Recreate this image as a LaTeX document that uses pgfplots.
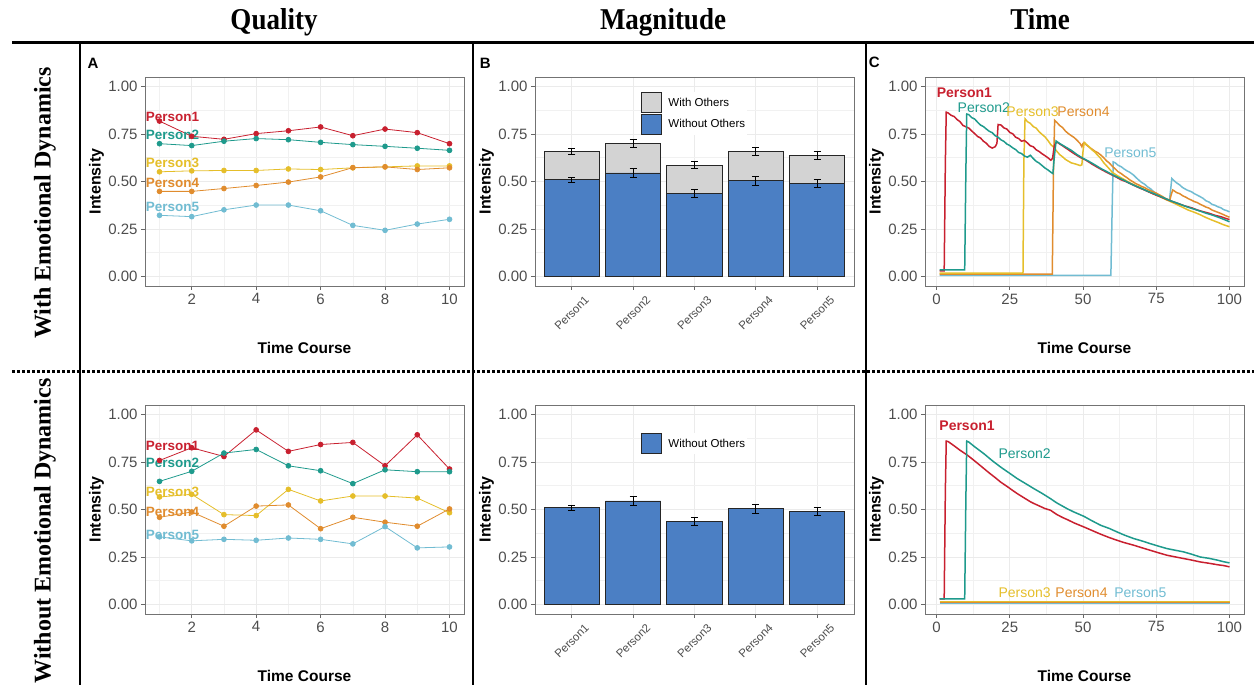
\documentclass[border=0pt]{standalone}
\usepackage{fontspec}
\setmainfont{Liberation Sans}
\newfontfamily\headfont{Liberation Serif}
\usepackage{graphicx}
\usepackage{pgfplots}
\pgfplotsset{compat=1.18}
\definecolor{pA}{HTML}{C8202F}
\definecolor{pB}{HTML}{1E9A8C}
\definecolor{pC}{HTML}{E5BE2A}
\definecolor{pD}{HTML}{E08C2E}
\definecolor{pE}{HTML}{71BCD2}
\definecolor{barblue}{HTML}{4B7FC4}
\definecolor{bargray}{HTML}{D3D3D3}
\definecolor{tickgray}{HTML}{4D4D4D}
\definecolor{gridc}{HTML}{EBEBEB}
\tikzset{plab/.style={anchor=west, font=\fontsize{14}{16}\selectfont, inner sep=0pt},
         qlab/.style={anchor=west, font=\bfseries\fontsize{13.5}{16}\selectfont, inner sep=0pt}}
\pgfplotsset{
  panel/.style={
    scale only axis, width=319pt, height=209pt, anchor=south west,
    axis line style={draw=black!55, line width=0.8pt},
    tick align=outside, xtick pos=left, ytick pos=left,
    major tick length=4pt, minor tick length=0pt,
    tick style={black!60, line width=0.8pt},
    grid=both,
    major grid style={draw=gridc, line width=0.7pt},
    minor grid style={draw=gridc!70, line width=0.5pt},
    tick label style={font=\fontsize{15}{17}\selectfont, text=tickgray},
    /pgf/number format/assume math mode=true,
    ymin=-0.05, ymax=1.05, ytick={0,0.25,0.5,0.75,1},
    minor ytick={0.125,0.375,0.625,0.875},
    yticklabel style={/pgf/number format/fixed, /pgf/number format/fixed zerofill, /pgf/number format/precision=2},
    ylabel={Intensity},
    ylabel style={font=\bfseries\fontsize{16}{18}\selectfont, at={(axis description cs:-0.152,0.5)}, anchor=center},
    xlabel style={font=\bfseries\fontsize{15.5}{18}\selectfont, at={(axis description cs:0.5,-0.297)}, anchor=center},
  },
  qual/.style={panel, xmin=0.55, xmax=10.45, xtick={2,4,6,8,10}, minor xtick={1,3,5,7,9}, xlabel={Time Course}},
  tim/.style={panel, xmin=-3.95, xmax=104.95, xtick={0,25,50,75,100}, minor xtick={12.5,37.5,62.5,87.5}, xlabel={Time Course}},
  mag/.style={panel, xmin=0.4, xmax=5.6, xtick={1,2,3,4,5},
    xticklabels={Person1,Person2,Person3,Person4,Person5},
    xticklabel style={yshift=-23pt, rotate=45, anchor=center, font=\fontsize{11.5}{13}\selectfont},
    legend cell align=left,
    legend image code/.code={\draw[##1] (0pt,-10pt) rectangle (20pt,10pt);},
  },
  qline/.style={line width=0.8pt, mark=*, mark size=2.4pt},
  tline/.style={line width=1.5pt},
  bar/.style={ybar, bar width=0.9, bar shift=0pt, draw=black!85, line width=0.8pt},
  ebar/.style={forget plot, draw=none, mark=none, error bars/.cd, y dir=both, y explicit,
    error mark=|,
    error bar style={draw=black, line width=0.8pt},
    error mark options={draw=black, mark size=3.5pt, line width=0.8pt}},
  leg/.style={legend style={at={(0.332,#1)}, anchor=north west, draw=none, fill=white,
    font=\fontsize{11.5}{13}\selectfont, inner sep=0pt, row sep=1pt, nodes={inner sep=1.5pt},
    /tikz/every odd column/.append style={column sep=5pt}}},
}
\begin{document}
\begin{tikzpicture}
\useasboundingbox (0pt,0pt) rectangle (1254pt,685pt);
% headers
\node[anchor=base, font=\headfont\bfseries\fontsize{27}{30}\selectfont] at (274pt,655pt) {\scalebox{1}[1.12]{Quality}};
\node[anchor=base, font=\headfont\bfseries\fontsize{27}{30}\selectfont] at (663pt,655pt) {\scalebox{1}[1.12]{Magnitude}};
\node[anchor=base, font=\headfont\bfseries\fontsize{27}{30}\selectfont] at (1040pt,655pt) {\scalebox{1}[1.12]{Time}};
\node[rotate=90, font=\headfont\bfseries\fontsize{24}{28}\selectfont] at (45pt,482pt) {With Emotional Dynamics};
\node[rotate=90, font=\headfont\bfseries\fontsize{24}{28}\selectfont] at (45pt,154pt) {Without Emotional Dynamics};
% frame lines
\draw[line width=3pt] (12pt,642pt) -- (1254pt,642pt);
\draw[line width=2.5pt] (80pt,642pt) -- (80pt,0pt);
\draw[line width=1.5pt] (473pt,642pt) -- (473pt,0pt);
\draw[line width=1.5pt] (866pt,642pt) -- (866pt,0pt);
\draw[line width=3pt, dash pattern=on 2.5pt off 2.5pt] (12pt,313.3pt) -- (1254pt,313.3pt);
% panel letters
\node[anchor=south west, inner sep=0pt, font=\bfseries\fontsize{15}{17}\selectfont] at (87.3pt,616.7pt) {A};
\node[anchor=south west, inner sep=0pt, font=\bfseries\fontsize{15}{17}\selectfont] at (479.7pt,616.7pt) {B};
\node[anchor=south west, inner sep=0pt, font=\bfseries\fontsize{15}{17}\selectfont] at (868.7pt,616.7pt) {C};

% ---------- A top ----------
\begin{axis}[qual, at={(145pt,399pt)}]
\addplot[pA, qline] coordinates {(1,0.818)(2,0.738)(3,0.722)(4,0.752)(5,0.767)(6,0.787)(7,0.741)(8,0.776)(9,0.757)(10,0.699)};
\addplot[pB, qline] coordinates {(1,0.699)(2,0.689)(3,0.712)(4,0.726)(5,0.720)(6,0.706)(7,0.694)(8,0.685)(9,0.675)(10,0.664)};
\addplot[pC, qline] coordinates {(1,0.551)(2,0.556)(3,0.558)(4,0.558)(5,0.566)(6,0.563)(7,0.572)(8,0.577)(9,0.582)(10,0.582)};
\addplot[pD, qline] coordinates {(1,0.448)(2,0.448)(3,0.463)(4,0.479)(5,0.497)(6,0.524)(7,0.573)(8,0.577)(9,0.563)(10,0.572)};
\addplot[pE, qline] coordinates {(1,0.322)(2,0.315)(3,0.351)(4,0.376)(5,0.376)(6,0.346)(7,0.269)(8,0.243)(9,0.276)(10,0.301)};
\node[qlab, text=pA] at (axis cs:0.57,0.839) {Person1};
\node[qlab, text=pB] at (axis cs:0.57,0.743) {Person2};
\node[qlab, text=pC] at (axis cs:0.57,0.597) {Person3};
\node[qlab, text=pD] at (axis cs:0.57,0.492) {Person4};
\node[qlab, text=pE] at (axis cs:0.57,0.366) {Person5};
\end{axis}

% ---------- A bottom ----------
\begin{axis}[qual, at={(145pt,71pt)}]
\addplot[pA, qline] coordinates {(1,0.758)(2,0.825)(3,0.779)(4,0.919)(5,0.806)(6,0.842)(7,0.853)(8,0.730)(9,0.893)(10,0.713)};
\addplot[pB, qline] coordinates {(1,0.648)(2,0.701)(3,0.797)(4,0.816)(5,0.730)(6,0.704)(7,0.636)(8,0.709)(9,0.699)(10,0.699)};
\addplot[pC, qline] coordinates {(1,0.566)(2,0.580)(3,0.473)(4,0.468)(5,0.606)(6,0.545)(7,0.571)(8,0.571)(9,0.560)(10,0.483)};
\addplot[pD, qline] coordinates {(1,0.459)(2,0.487)(3,0.412)(4,0.518)(5,0.524)(6,0.399)(7,0.459)(8,0.433)(9,0.412)(10,0.503)};
\addplot[pE, qline] coordinates {(1,0.356)(2,0.335)(3,0.343)(4,0.338)(5,0.350)(6,0.343)(7,0.319)(8,0.410)(9,0.298)(10,0.303)};
\node[qlab, text=pA] at (axis cs:0.57,0.837) {Person1};
\node[qlab, text=pB] at (axis cs:0.57,0.744) {Person2};
\node[qlab, text=pC] at (axis cs:0.57,0.592) {Person3};
\node[qlab, text=pD] at (axis cs:0.57,0.489) {Person4};
\node[qlab, text=pE] at (axis cs:0.57,0.364) {Person5};
\end{axis}

% ---------- B top ----------
\begin{axis}[mag, at={(535pt,399pt)}, leg=0.928]
\addplot[bar, fill=bargray] coordinates {(1,0.659)(2,0.699)(3,0.586)(4,0.659)(5,0.637)};
\addlegendentry{With Others}
\addplot[bar, fill=barblue] coordinates {(1,0.509)(2,0.545)(3,0.437)(4,0.505)(5,0.490)};
\addlegendentry{Without Others}
\addplot[ebar] coordinates {(1,0.659) +- (0,0.017) (2,0.699) +- (0,0.021) (3,0.586) +- (0,0.019) (4,0.659) +- (0,0.020) (5,0.637) +- (0,0.023)};
\addplot[ebar] coordinates {(1,0.509) +- (0,0.014) (2,0.545) +- (0,0.022) (3,0.437) +- (0,0.019) (4,0.505) +- (0,0.024) (5,0.490) +- (0,0.022)};
\end{axis}

% ---------- B bottom ----------
\begin{axis}[mag, at={(535pt,71pt)}, leg=0.866]
\addplot[bar, fill=barblue] coordinates {(1,0.509)(2,0.545)(3,0.437)(4,0.505)(5,0.490)};
\addlegendentry{Without Others}
\addplot[ebar] coordinates {(1,0.509) +- (0,0.014) (2,0.545) +- (0,0.022) (3,0.437) +- (0,0.019) (4,0.505) +- (0,0.024) (5,0.490) +- (0,0.022)};
\end{axis}

% ---------- C top ----------
\begin{axis}[tim, at={(925pt,399pt)}]
\addplot[pE, tline] coordinates {(1,0.006)(59.5,0.006)(60,0.40)(60.3,0.603)(61,0.598)(62,0.585)(63,0.578)(64,0.566)(65,0.556)(66,0.548)(67.3,0.533)(68,0.522)(69,0.508)(70,0.495)(71,0.486)(72,0.472)(73,0.462)(74,0.448)(75.3,0.432)(76,0.424)(77,0.417)(78,0.408)(79.5,0.401)(80,0.47)(80.3,0.516)(81,0.505)(82,0.492)(83,0.482)(84,0.468)(85.5,0.455)(87,0.446)(88,0.436)(90,0.420)(91,0.411)(92,0.398)(93,0.392)(94,0.380)(95,0.375)(96,0.367)(97,0.362)(98,0.352)(99,0.347)(100,0.340)};
\addplot[pD, tline] coordinates {(1,0.012)(39.5,0.012)(39.9,0.55)(40.3,0.822)(41,0.812)(42,0.795)(43,0.784)(44,0.765)(45,0.752)(46,0.741)(47,0.731)(48,0.716)(49,0.70)(49.6,0.683)(50.0,0.70)(50.5,0.705)(51,0.694)(52,0.682)(53,0.671)(54,0.660)(55,0.652)(56,0.640)(57,0.626)(58,0.609)(59,0.597)(60,0.580)(61,0.566)(62,0.551)(63,0.542)(64,0.530)(65,0.520)(66,0.508)(67,0.499)(68,0.489)(69,0.482)(70,0.474)(71,0.468)(72,0.459)(73,0.452)(74,0.445)(75,0.439)(76,0.430)(77,0.422)(78,0.412)(79,0.405)(79.6,0.400)(80.1,0.43)(80.6,0.455)(81,0.452)(82,0.441)(83,0.436)(84,0.425)(85,0.418)(86,0.409)(87,0.402)(88,0.394)(89,0.389)(90,0.380)(91,0.373)(92,0.365)(93,0.360)(94,0.350)(95,0.344)(96,0.338)(97,0.332)(98,0.325)(99,0.318)(100,0.312)};
\addplot[pC, tline] coordinates {(1,0.018)(29.5,0.018)(29.8,0.60)(30.2,0.830)(31,0.815)(32,0.806)(33,0.789)(34,0.781)(35,0.762)(36,0.748)(37,0.735)(38,0.716)(39,0.694)(40,0.680)(41,0.660)(42,0.642)(43,0.630)(44,0.616)(45,0.607)(46,0.598)(47,0.594)(48,0.589)(49,0.584)(49.6,0.588)(50.0,0.66)(50.4,0.705)(51,0.697)(52,0.684)(53,0.667)(54,0.655)(55,0.638)(56,0.622)(57,0.600)(58,0.583)(59,0.566)(60,0.548)(62,0.528)(64,0.511)(66,0.493)(68,0.478)(70,0.464)(72,0.451)(74,0.435)(76,0.422)(78,0.407)(80,0.393)(82,0.379)(84,0.364)(86,0.349)(88,0.338)(90,0.325)(92,0.310)(94,0.297)(96,0.285)(98,0.272)(100,0.262)};
\addplot[pA, tline] coordinates {(1,0.030)(2.6,0.030)(3.0,0.60)(3.3,0.865)(4,0.860)(5,0.848)(6,0.842)(7,0.826)(8,0.815)(9,0.795)(10,0.788)(11,0.781)(12,0.766)(13,0.752)(14,0.737)(15,0.729)(16,0.712)(17,0.701)(18,0.684)(19,0.676)(20,0.683)(20.6,0.700)(21.0,0.800)(22,0.797)(23,0.782)(24,0.776)(25,0.758)(26,0.751)(27,0.733)(28,0.726)(29,0.712)(30,0.716)(31,0.703)(32,0.688)(33,0.683)(34,0.667)(35,0.658)(36,0.646)(37,0.636)(38,0.625)(39,0.612)(39.6,0.622)(40.2,0.690)(41,0.708)(43,0.688)(45,0.667)(47,0.646)(49,0.627)(51,0.612)(53,0.592)(55,0.574)(57,0.557)(59,0.541)(61,0.526)(63,0.509)(65,0.497)(67,0.482)(69,0.468)(71,0.455)(73,0.441)(75,0.428)(77,0.416)(79,0.403)(81,0.392)(83,0.381)(85,0.370)(87,0.362)(89,0.350)(91,0.341)(93,0.333)(95,0.322)(97,0.315)(99,0.304)(100,0.300)};
\addplot[pB, tline] coordinates {(1,0.035)(9.6,0.035)(10.0,0.55)(10.3,0.855)(11,0.852)(12,0.836)(13,0.829)(14,0.812)(15,0.797)(16,0.789)(17,0.776)(18,0.764)(19,0.757)(20,0.741)(21,0.733)(22,0.719)(23,0.711)(24,0.697)(25,0.689)(26,0.677)(27,0.668)(28,0.653)(29,0.647)(30,0.634)(31,0.628)(32,0.638)(33,0.621)(34,0.606)(35,0.597)(36,0.584)(37,0.571)(38,0.561)(39,0.549)(39.7,0.542)(40.2,0.630)(40.8,0.713)(42,0.700)(44,0.682)(46,0.664)(48,0.641)(50,0.622)(52,0.606)(54,0.588)(56,0.569)(58,0.553)(60,0.536)(62,0.521)(64,0.506)(66,0.490)(68,0.476)(70,0.463)(72,0.449)(74,0.437)(76,0.424)(78,0.411)(80,0.398)(82,0.387)(84,0.375)(86,0.364)(88,0.354)(90,0.344)(92,0.333)(94,0.324)(96,0.313)(98,0.301)(100,0.288)};
\node[plab, text=pA, font=\bfseries\fontsize{14}{16}\selectfont] at (axis cs:0,0.965) {Person1};
\node[plab, text=pB] at (axis cs:7.15,0.890) {Person2};
\node[plab, text=pC] at (axis cs:23.8,0.865) {Person3};
\node[plab, text=pD] at (axis cs:41.2,0.865) {Person4};
\node[plab, text=pE] at (axis cs:57.2,0.650) {Person5};
\end{axis}

% ---------- C bottom ----------
\begin{axis}[tim, at={(925pt,71pt)}]
\addplot[pE, tline] coordinates {(1,0.005)(100,0.005)};
\addplot[pD, tline] coordinates {(1,0.010)(100,0.010)};
\addplot[pC, tline] coordinates {(1,0.016)(100,0.016)};
\addplot[pA, tline] coordinates {(1,0.030)(2.6,0.030)(3.0,0.60)(3.3,0.860)(4,0.857)(6,0.835)(8,0.812)(10.6,0.785)(12,0.768)(14,0.743)(16.2,0.715)(18,0.692)(20,0.668)(21.9,0.644)(24,0.622)(26,0.600)(27.6,0.583)(30,0.560)(32,0.541)(33.3,0.531)(35,0.519)(37,0.505)(38.9,0.496)(41,0.474)(43,0.458)(44.6,0.447)(47,0.429)(50.3,0.408)(53,0.390)(56,0.370)(59,0.352)(61.6,0.338)(64,0.326)(67.3,0.312)(70,0.299)(73,0.285)(76,0.271)(78.7,0.259)(81,0.252)(84.3,0.242)(87,0.234)(90,0.224)(93,0.217)(96,0.209)(98,0.205)(100,0.198)};
\addplot[pB, tline] coordinates {(1,0.030)(9.6,0.030)(10.0,0.55)(10.3,0.860)(11,0.855)(13,0.830)(16.2,0.793)(19,0.757)(21.9,0.723)(25,0.690)(27.6,0.662)(30,0.640)(33.3,0.609)(36,0.585)(38.9,0.557)(41,0.535)(44.6,0.504)(47,0.486)(50.3,0.464)(53,0.441)(56,0.417)(59,0.400)(61.6,0.382)(64,0.366)(67.3,0.347)(70,0.335)(73,0.320)(76,0.306)(78.7,0.294)(81,0.287)(84.3,0.277)(87,0.265)(90,0.250)(93,0.243)(96,0.233)(98,0.225)(100,0.219)};
\node[plab, text=pA, font=\bfseries\fontsize{14}{16}\selectfont] at (axis cs:0.9,0.942) {Person1};
\node[plab, text=pB] at (axis cs:21.1,0.795) {Person2};
\node[plab, text=pC] at (axis cs:21.1,0.061) {Person3};
\node[plab, text=pD] at (axis cs:40.5,0.061) {Person4};
\node[plab, text=pE] at (axis cs:60.6,0.061) {Person5};
\end{axis}
\end{tikzpicture}
\end{document}
